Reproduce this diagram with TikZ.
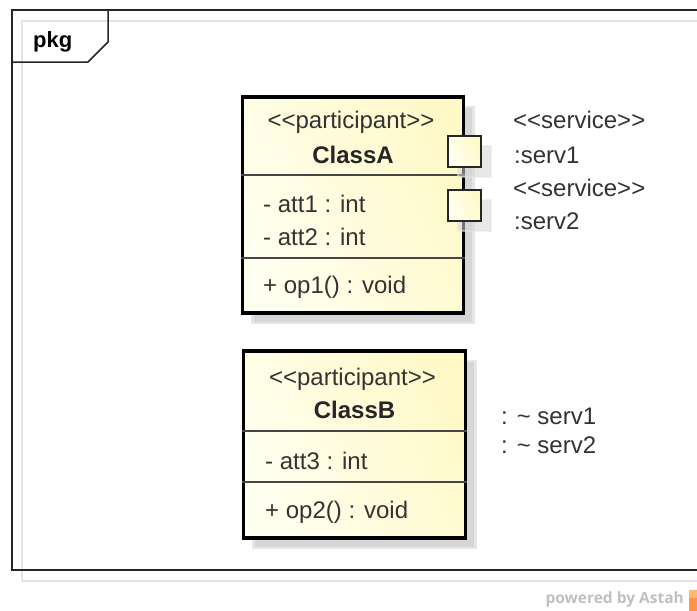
\documentclass[tikz,border=0pt]{standalone}
\usepackage{fontspec}
\usetikzlibrary{shadows}
\setmainfont{Liberation Sans}[Ligatures=NoCommon]
\newfontfamily\brandfont{Open Sans}
\newcommand\umltext{\fontsize{24}{28}\selectfont}
\newcommand\lt{\symbol{60}}
\newcommand\gt{\symbol{62}}
\definecolor{boxtop}{RGB}{255,255,240}
\definecolor{boxbot}{RGB}{255,249,200}
\definecolor{shadowcore}{RGB}{214,214,214}
\definecolor{shadowrim}{RGB}{230,230,230}
\definecolor{framegray}{RGB}{228,228,228}
\definecolor{linegray}{RGB}{70,70,70}
\definecolor{brandgray}{RGB}{192,192,192}
\tikzset{
  softshadow/.style={drop shadow={shadow xshift=10pt, shadow yshift=-10pt,
    fill=shadowcore, draw=shadowrim, line width=2.5pt, opacity=#1}},
  softshadow/.default=1,
  classbox/.style={draw=black, line width=3.5pt, inner sep=0pt,
    left color=boxtop, right color=boxbot, shading angle=115, softshadow},
  portbox/.style={draw=black!85, line width=1.5pt, inner sep=0pt,
    minimum width=33pt, minimum height=31pt,
    left color=boxtop, right color=boxbot, shading angle=115, softshadow=0.55},
  divider/.style={draw=linegray, line width=1.2pt},
  lbl/.style={inner sep=0pt, font=\umltext, text=black!80},
  lblb/.style={inner sep=0pt, font=\umltext\bfseries, text=black!85},
}
\begin{document}
\begin{tikzpicture}[x=1pt,y=-1pt]
\useasboundingbox (0,0) rectangle (697,611);
\fill[white] (0,0) rectangle (697,611);

% package frame with its offset outline
\draw[framegray, line width=1.5pt] (22,21) rectangle (740,581);
\draw[black!85, line width=1.8pt] (12,10) rectangle (730,570);
\draw[black!85, line width=1.5pt] (12,62) -- (88,62) -- (108,42) -- (108,10);
\node[inner sep=0pt, anchor=base west, font=\fontsize{22}{26}\selectfont\bfseries] (pkg) at (33,47) {pkg};

% class boxes
\node[classbox, minimum width=221pt, minimum height=216pt] (A) at (353,205) {};
\node[classbox, minimum width=222pt, minimum height=187pt] (B) at (354.5,444.5) {};

\draw[divider] (A.west |- 0,175) -- (A.east |- 0,175);
\draw[divider] (A.west |- 0,258) -- (A.east |- 0,258);
\draw[divider] (B.west |- 0,431) -- (B.east |- 0,431);
\draw[divider] (B.west |- 0,482) -- (B.east |- 0,482);

% ports on ClassA
\node[portbox] (p1) at (464.5,151.5) {};
\node[portbox] (p2) at (464.5,205.5) {};

% ClassA compartments
\node[lbl, anchor=base] (aSt) at (351,128) {\lt\lt participant\gt\gt};
\node[lblb, anchor=base] (aNm) at (353,163) {ClassA};
\node[lbl, anchor=base west] (aAt1) at (263,212) {- att1 : int};
\node[lbl, anchor=base west] (aAt2) at (263,245) {- att2 : int};
\node[lbl, anchor=base west] (aOp1) at (263,293) {+ op1() : void};

% port labels
\node[lbl, anchor=base west] (s1St) at (513,128) {\lt\lt service\gt\gt};
\node[lbl, anchor=base west] (s1Nm) at (514,163) {:serv1};
\node[lbl, anchor=base west] (s2St) at (513,196) {\lt\lt service\gt\gt};
\node[lbl, anchor=base west] (s2Nm) at (514,229) {:serv2};

% ClassB compartments
\node[lbl, anchor=base] (bSt) at (352.5,385) {\lt\lt participant\gt\gt};
\node[lblb, anchor=base] (bNm) at (354.5,418) {ClassB};
\node[lbl, anchor=base west] (bAt3) at (265,469) {- att3 : int};
\node[lbl, anchor=base west] (bOp2) at (265,518) {+ op2() : void};

% required interfaces of ClassB
\node[lbl, anchor=base west] (r1) at (501,424) {: \textasciitilde{} serv1};
\node[lbl, anchor=base west] (r2) at (501,453) {: \textasciitilde{} serv2};

% branding
\node[inner sep=0pt, anchor=base east, text=brandgray, font=\brandfont\fontsize{15.5}{18}\selectfont\bfseries] (brand) at (684,603) {powered by Astah};
\fill[orange!55] (689,590) rectangle (697,598);
\fill[orange!80!red!70] (689,598) rectangle (697,611);
\end{tikzpicture}
\end{document}
